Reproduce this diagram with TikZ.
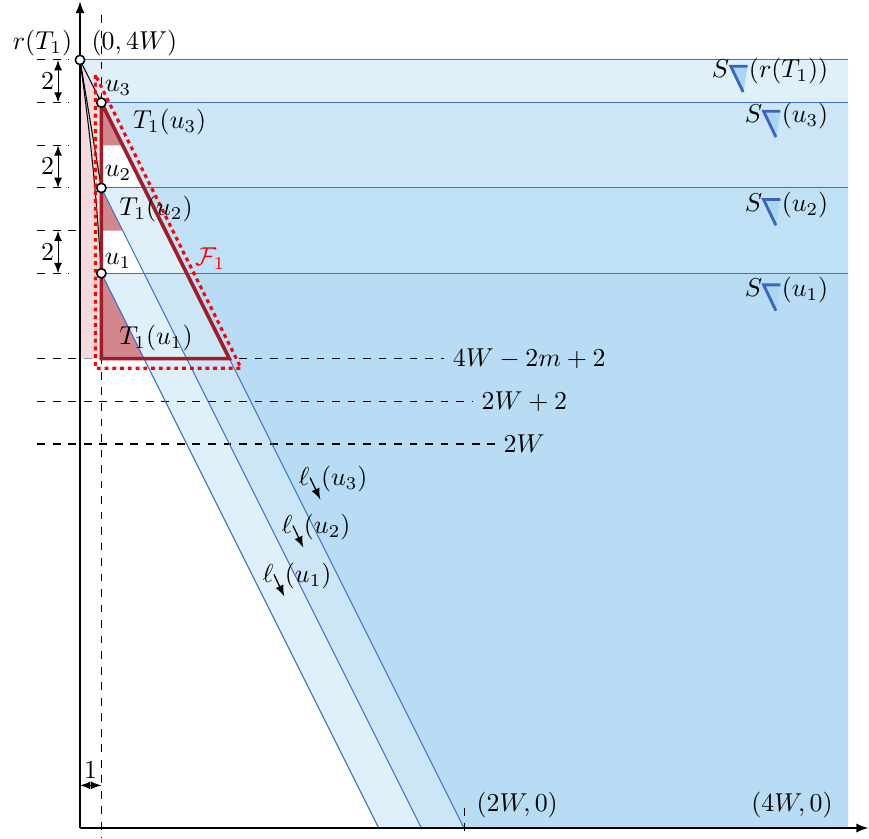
\documentclass[tikz,border=0pt]{standalone}
\usepackage{amsmath,amssymb}
\usepackage{tikz}
\usetikzlibrary{shapes,shapes.misc,shapes.geometric}
\usetikzlibrary{positioning,fit,backgrounds}
\usetikzlibrary{arrows}
\definecolor{stripblue}{RGB}{171,214,241}
\definecolor{lineblue}{RGB}{70,110,200}
\definecolor{symblue}{RGB}{60,100,190}
\definecolor{treered}{RGB}{160,28,40}
\definecolor{treefill}{RGB}{210,134,142}
\definecolor{rootpink}{RGB}{242,218,222}
\newcommand{\swedge}{\tikz[baseline=0pt]{\fill[stripblue] (0,4.5pt) -- (6.5pt,4.5pt) -- (5pt,-5pt) -- cycle; \draw[symblue,line width=1.1pt] (6.5pt,4.5pt) -- (0,4.5pt) -- (4.8pt,-5.5pt);}}
\newcommand{\ldir}{\tikz[baseline=0pt]{\draw[-latex,line width=0.5pt] (0,3pt) -- (4pt,-5.5pt);}}
\tikzset{vtx/.style={circle,draw,fill=white,inner sep=0pt,minimum size=3.6pt,line width=0.6pt}}

\begin{document}
\begin{tikzpicture}[x=0.29cm,y=0.29cm]
\useasboundingbox (-3.75,-0.47) rectangle (36.98,38.81);

\coordinate (r) at (0,36);
\coordinate (u3) at (1,34);
\coordinate (u2) at (1,30);
\coordinate (u1) at (1,26);
\coordinate (c1) at (1,22);
\coordinate (c2) at (7,22);

% strips S(.)
\begin{scope}[opacity=0.37]
\fill[stripblue] (r) -- (36,36) -- (36,0) -- (18,0) -- cycle;
\fill[stripblue] (u3) -- (36,34) -- (36,0) -- (18,0) -- cycle;
\fill[stripblue] (u2) -- (36,30) -- (36,0) -- (16,0) -- cycle;
\fill[stripblue] (u1) -- (36,26) -- (36,0) -- (14,0) -- cycle;
\end{scope}

% dashed levels
\draw[dashed](-2,36) -- (-0.5,36);
\draw[dashed](-2,34) -- (-0.5,34);
\draw[dashed](-2,32) -- (-0.5,32);
\draw[dashed](-2,30) -- (-0.5,30);
\draw[dashed](-2,28) -- (0,28);
\draw[dashed](-2,26) -- (-0.5,26);
\draw(17.05,22) node[anchor=west] (h1) {$4W-2m+2$};
\draw(18.4,20) node[anchor=west] (h2) {$2W+2$};
\draw(19.43,18) node[anchor=west] (h3) {$2W$};
\draw[dashed](-2,22) -- (h1.west);
\draw[dashed](-2,20) -- (h2.west);
\draw[dashed](-2,18) -- (h3.west);
\draw[dashed](1,38.1) -- (1,-0.47);
\draw[dashed](18,0.95) -- (18,-0.47);

% the tree T_1
\fill[rootpink] (r) -- (u3) -- (c1) -- (0,22) -- cycle;
\fill[treefill] (u3) -- (1,32) -- (2,32) -- cycle;
\fill[treefill] (u2) -- (1,28) -- (2,28) -- cycle;
\fill[treefill] (u1) -- (c1) -- (3,22) -- cycle;

% lines l(.)
\draw[lineblue] (u3) -- (36,34);
\draw[lineblue] (u2) -- (36,30);
\draw[lineblue] (u1) -- (36,26);
\draw[lineblue] (r) -- (36,36);
\draw[lineblue] (u3) -- (18,0);
\draw[lineblue] (u2) -- (16,0);
\draw[lineblue] (u1) -- (14,0);

% axes
\draw[-latex,line width=0.6pt] (0,0) -- (36.95,0);
\draw[-latex,line width=0.6pt] (0,0) -- (0,38.75);

\draw (r) -- (u3);
\draw (r) -- (u2);
\draw (r) to[bend left=2] (u1);

\draw[treered,line width=1.4pt] (u3) -- (c1) -- (c2) -- cycle;
\draw[red,line width=1.2pt,dash pattern=on 1.5pt off 1.5pt] (0.72,35.3) -- (0.72,21.55) -- (7.55,21.55) -- cycle;
\draw(6.1,26.7) node[red] (F) {$\mathcal{F}_1$};

\node[vtx] (rv) at (r) {};
\node[vtx] (u3v) at (u3) {};
\node[vtx] (u2v) at (u2) {};
\node[vtx] (u1v) at (u1) {};

\draw(-1.76,36.8) node (rl) {$r(T_1)$};
\draw(2.55,36.8) node (top) {$(0,4W)$};
\draw(1.78,34.69) node (l3) {$u_3$};
\draw(1.78,30.7) node (l2) {$u_2$};
\draw(1.78,26.58) node (l1) {$u_1$};
\draw(4.2,33.1) node (t3) {$T_1(u_3)$};
\draw(3.56,29.0) node (t2) {$T_1(u_2)$};
\draw(3.56,22.97) node (t1) {$T_1(u_1)$};

\draw(35.5,35.25) node[anchor=east] (Sr) {$S$\swedge$(r(T_1))$};
\draw(35.5,33.14) node[anchor=east] (S3) {$S$\swedge$(u_3)$};
\draw(35.5,29.0) node[anchor=east] (S2) {$S$\swedge$(u_2)$};
\draw(35.5,25.0) node[anchor=east] (S1) {$S$\swedge$(u_1)$};

\draw(11.86,16.17) node (ell3) {$\ell$\ldir$(u_3)$};
\draw(11.06,13.92) node (ell2) {$\ell$\ldir$(u_2)$};
\draw(10.17,11.63) node (ell1) {$\ell$\ldir$(u_1)$};

\draw[latex-latex] (-1.03,36) -- (-1.03,34) node[midway,left=-2pt] (d1) {$2$};
\draw[latex-latex] (-1.03,32) -- (-1.03,30) node[midway,left=-2pt] (d2) {$2$};
\draw[latex-latex] (-1.03,28) -- (-1.03,26) node[midway,left=-2pt] (d3) {$2$};
\draw[latex-latex] (0,2) -- (1,2) node[midway,above=-1pt] (d4) {$1$};

\draw(18.16,1.08) node[anchor=west] (p2) {$(2W,0)$};
\draw(35.7,1.08) node[anchor=east] (p4) {$(4W,0)$};
\end{tikzpicture}
\end{document}
